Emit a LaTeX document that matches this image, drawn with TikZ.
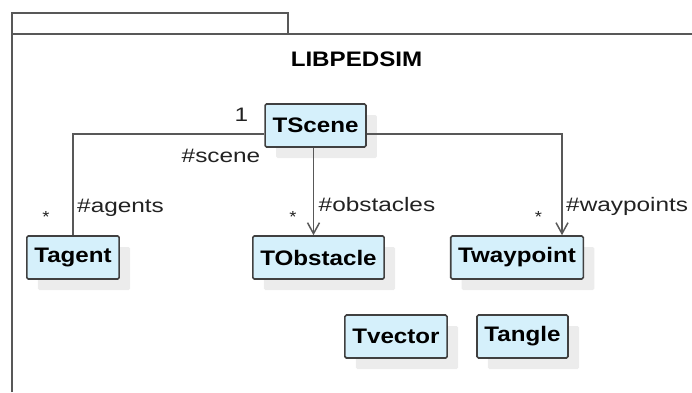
\documentclass[tikz,border=0pt]{standalone}
\usepackage{fontspec}
\setmainfont{Liberation Sans}[FakeStretch=1.15]
\newfontfamily\rolefont{Liberation Sans}[FakeStretch=1.25]
\usetikzlibrary{arrows.meta,shadows}
\definecolor{classfill}{RGB}{213,240,251}
\definecolor{classline}{RGB}{64,64,64}
\definecolor{linkgray}{RGB}{88,88,88}
\definecolor{shadowgray}{RGB}{236,236,236}
\definecolor{textgray}{RGB}{34,34,34}

\begin{document}
\begin{tikzpicture}[x=1pt,y=1pt,yscale=-1,
  frame/.style={draw=linkgray, line width=1.8pt},
  classbox/.style={draw=classline, fill=classfill, line width=1.6pt, rounded corners=1.5pt,
    minimum height=43pt, inner xsep=7.5pt, inner ysep=0pt,
    font=\fontsize{21}{25}\selectfont\bfseries,
    drop shadow={shadow xshift=11pt, shadow yshift=-11pt, fill=shadowgray, opacity=1}},
  assoc/.style={draw=linkgray, line width=1.6pt},
  navarrow/.style={-{Straight Barb[length=11pt,width=12pt,line width=1.5pt]}},
  role/.style={anchor=base west, inner sep=0pt, text=textgray, font=\rolefont\fontsize{19.5}{23}\selectfont},
  mult/.style={anchor=base, inner sep=0pt, text=textgray, font=\fontsize{16}{19}\selectfont}]
\useasboundingbox (0,0) rectangle (692,392);

%Package frame
\draw [frame] (12,34) |- (288,13) -- (288,34) ;
\draw [frame] (12,392) -- (12,34) -- (692,34) ;
% Text Node
\node [anchor=base, inner sep=0pt, font=\fontsize{21}{25}\selectfont\bfseries] (pkgname) at (356.5,66) {LIBPEDSIM};

%Classes
\node [classbox] (scene) at (315.5,125.5) {TScene};
\node [classbox] (agent) at (73,257.5) {Tagent};
\node [classbox] (obstacle) at (318.5,257.5) {TObstacle};
\node [classbox] (waypoint) at (517,257.5) {Twaypoint};
\node [classbox] (vector) at (396,336.5) {Tvector};
\node [classbox] (angle) at (522.5,336.5) {Tangle};

%Associations
\draw [assoc] ([yshift=8.5pt]scene.west) -| (agent.north) ;
\draw [assoc,navarrow] ([xshift=-2pt]scene.south) -- ([xshift=-2pt]scene.south |- obstacle.north) ;
\draw [assoc,navarrow] ([yshift=8.5pt]scene.east) -| ([xshift=45pt]waypoint.north) ;

% Text Node
\node [anchor=base, inner sep=0pt, text=textgray, font=\rolefont\fontsize{19.5}{23}\selectfont] (sceneone) at (241.5,121) {1};
\node [role] (scenerole) at (181.5,162.5) {\#scene};
\node [mult] (agentmult) at (46,222) {*};
\node [role] (agentrole) at (77,212) {\#agents};
\node [mult] (obstaclemult) at (293,222) {*};
\node [role] (obstaclerole) at (318.5,211) {\#obstacles};
\node [mult] (waypointmult) at (538.5,222) {*};
\node [role] (waypointrole) at (566,211.5) {\#waypoints};
\end{tikzpicture}
\end{document}
